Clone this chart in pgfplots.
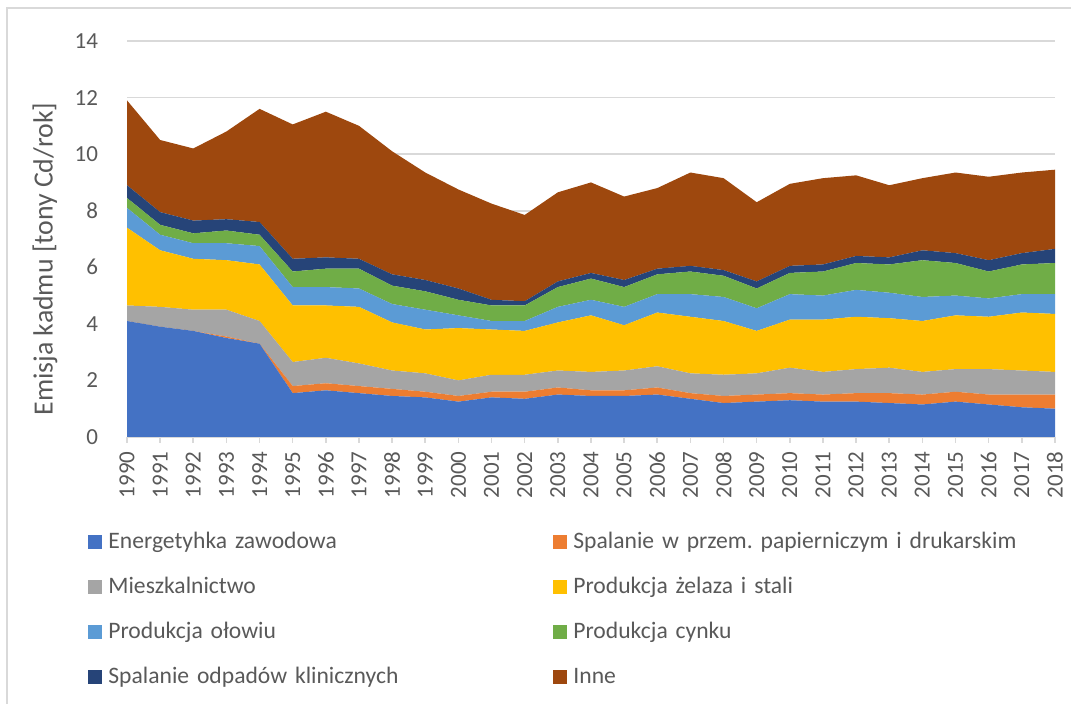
\documentclass[border=0pt]{standalone}
\usepackage{fontspec}
\setmainfont{Carlito}
\usepackage{pgfplots}
\usepackage{pgfplotstable}
\pgfplotsset{compat=1.18}
\frenchspacing
\definecolor{cE}{HTML}{4472C4}
\definecolor{cO}{HTML}{ED7D31}
\definecolor{cM}{HTML}{A5A5A5}
\definecolor{cY}{HTML}{FFC000}
\definecolor{cL}{HTML}{5B9BD5}
\definecolor{cC}{HTML}{70AD47}
\definecolor{cN}{HTML}{264478}
\definecolor{cI}{HTML}{9E480E}
\definecolor{txt}{HTML}{595959}
\definecolor{grd}{HTML}{D9D9D9}
\pgfplotstableread{
year e o m y l c n i
1990 4.10 0.00 0.55 2.75 0.70 0.35 0.45 3.00
1991 3.90 0.00 0.70 2.00 0.55 0.35 0.45 2.55
1992 3.75 0.00 0.75 1.80 0.55 0.35 0.45 2.55
1993 3.50 0.05 0.95 1.75 0.60 0.45 0.40 3.10
1994 3.30 0.00 0.80 2.00 0.65 0.40 0.45 4.00
1995 1.55 0.25 0.85 2.00 0.65 0.55 0.45 4.75
1996 1.65 0.25 0.90 1.85 0.65 0.65 0.40 5.15
1997 1.55 0.25 0.80 2.00 0.65 0.70 0.35 4.70
1998 1.45 0.25 0.65 1.70 0.65 0.65 0.40 4.35
1999 1.40 0.20 0.65 1.55 0.70 0.65 0.40 3.80
2000 1.25 0.20 0.55 1.85 0.45 0.55 0.40 3.50
2001 1.40 0.20 0.60 1.60 0.30 0.55 0.20 3.40
2002 1.35 0.25 0.60 1.55 0.35 0.55 0.15 3.05
2003 1.50 0.25 0.60 1.70 0.55 0.70 0.20 3.15
2004 1.45 0.20 0.65 2.00 0.55 0.75 0.20 3.20
2005 1.45 0.20 0.70 1.60 0.65 0.70 0.25 2.95
2006 1.50 0.25 0.75 1.90 0.65 0.70 0.20 2.85
2007 1.35 0.20 0.70 2.00 0.80 0.80 0.20 3.30
2008 1.20 0.25 0.75 1.90 0.85 0.75 0.20 3.25
2009 1.25 0.25 0.75 1.50 0.80 0.70 0.25 2.80
2010 1.30 0.25 0.90 1.70 0.90 0.75 0.25 2.90
2011 1.25 0.25 0.80 1.85 0.85 0.85 0.25 3.05
2012 1.25 0.30 0.85 1.85 0.95 0.95 0.25 2.85
2013 1.20 0.35 0.90 1.75 0.90 1.00 0.25 2.55
2014 1.15 0.35 0.80 1.80 0.85 1.30 0.35 2.55
2015 1.25 0.35 0.80 1.90 0.70 1.15 0.35 2.85
2016 1.15 0.35 0.90 1.85 0.65 0.95 0.40 2.95
2017 1.05 0.45 0.85 2.05 0.65 1.05 0.40 2.85
2018 1.00 0.50 0.80 2.05 0.70 1.10 0.50 2.80
}\data
\begin{document}
\begin{tikzpicture}
\useasboundingbox (0pt,0pt) rectangle (535.5pt,352pt);
\draw[grd, line width=0.6pt] (3.5pt,0pt) -- (3.5pt,348pt) -- (535.5pt,348pt);
\node[rotate=90, text=txt, font=\fontsize{13.9}{16}\selectfont] at (22.5pt,222.5pt) {Emisja kadmu [tony Cd/rok]};
\begin{axis}[
  at={(63.5pt,133.5pt)}, anchor=south west,
  scale only axis, width=464pt, height=198pt,
  xmin=1990, xmax=2018, ymin=0, ymax=14,
  stack plots=y,
  xtick={1990,...,2018}, ytick={0,2,...,14},
  /pgf/number format/assume math mode=true,
  /pgf/number format/1000 sep={},
  axis x line*=bottom, axis y line*=left,
  x axis line style={draw=grd, line width=0.8pt, -},
  y axis line style={draw=none},
  ymajorgrids, grid style={grd, line width=0.8pt},
  tick align=outside, major tick length=3pt,
  xtick style={grd, line width=0.8pt},
  ytick style={draw=none},
  x tick label style={rotate=90, anchor=east, text=txt, font=\fontsize{11.5}{13}\selectfont, inner sep=0pt},
  xticklabel shift=4pt,
  y tick label style={text=txt, font=\fontsize{11.5}{13}\selectfont},
  yticklabel style={xshift=-8pt},
  legend columns=2,
  legend cell align=left,
  legend image code/.code={\fill[#1] (0pt,-3.5pt) rectangle (7pt,3.5pt);},
  legend style={draw=none, fill=none, at={(-0.042,-0.235)}, anchor=north west,
    inner sep=0pt, row sep=11pt,
    nodes={inner sep=0pt, text height=9pt, text depth=2.5pt, text width=222.5pt, align=left, text=txt, font=\fontsize{11.8}{14}\selectfont},
    /tikz/every odd column/.append style={column sep=3pt}},
]
\addplot[fill=cE, draw=none] table[x=year, y=e] {\data} \closedcycle;
\addlegendentry{Energetyhka zawodowa}
\addplot[fill=cO, draw=none] table[x=year, y=o] {\data} \closedcycle;
\addlegendentry{\mbox{Spalanie w przem. papierniczym i drukarskim}}
\addplot[fill=cM, draw=none] table[x=year, y=m] {\data} \closedcycle;
\addlegendentry{Mieszkalnictwo}
\addplot[fill=cY, draw=none] table[x=year, y=y] {\data} \closedcycle;
\addlegendentry{Produkcja żelaza i stali}
\addplot[fill=cL, draw=none] table[x=year, y=l] {\data} \closedcycle;
\addlegendentry{Produkcja ołowiu}
\addplot[fill=cC, draw=none] table[x=year, y=c] {\data} \closedcycle;
\addlegendentry{Produkcja cynku}
\addplot[fill=cN, draw=none] table[x=year, y=n] {\data} \closedcycle;
\addlegendentry{\mbox{Spalanie odpadów klinicznych}}
\addplot[fill=cI, draw=none] table[x=year, y=i] {\data} \closedcycle;
\addlegendentry{Inne}
\end{axis}
\end{tikzpicture}
\end{document}
